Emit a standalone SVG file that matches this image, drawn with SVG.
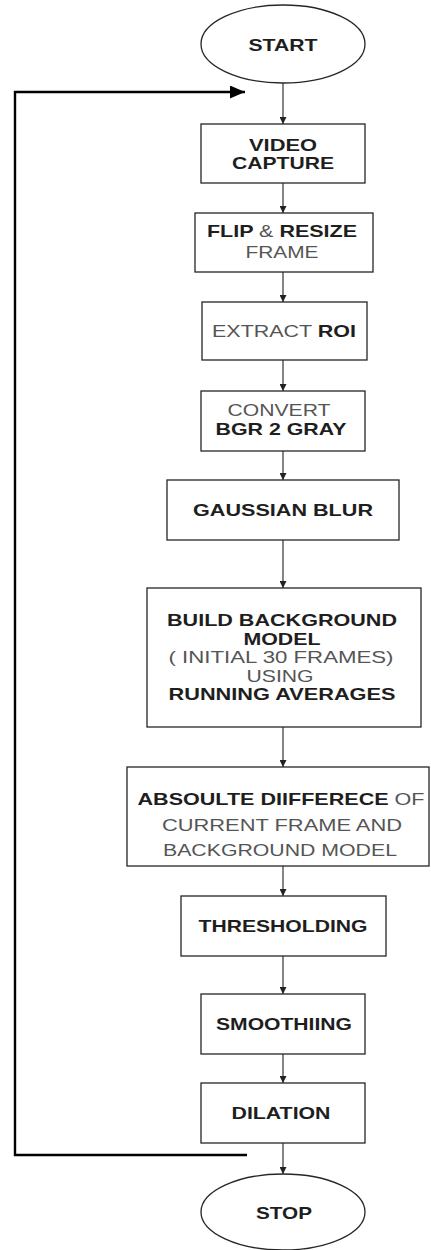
<svg xmlns="http://www.w3.org/2000/svg" width="431" height="1250" viewBox="0 0 431 1250">
<style>
.n{fill:#fff;stroke:#262626;stroke-width:1.3}
.t{font-family:"Liberation Sans",Arial,sans-serif;font-size:16.5px;text-anchor:middle}
.b{font-weight:bold;fill:#1e1e1e}
.r{font-weight:normal;fill:#555}
.c{stroke:#333;stroke-width:1.2;fill:none}
.fb{stroke:#000;stroke-width:2.4;fill:none}
</style>
<defs>
<marker id="ah" viewBox="0 0 10 10" refX="10" refY="5" markerWidth="7" markerHeight="7" markerUnits="userSpaceOnUse" orient="auto">
<path d="M0,0 L10,5 L0,10 z" fill="#222"/>
</marker>
<marker id="big" viewBox="0 0 10 10" refX="10" refY="5" markerWidth="15" markerHeight="13" markerUnits="userSpaceOnUse" orient="auto" preserveAspectRatio="none">
<path d="M0,0 L10,5 L0,10 z" fill="#000"/>
</marker>
</defs>
<rect width="431" height="1250" fill="#fff"/>
<g id="connectors">
<line class="c" x1="283" y1="83" x2="283" y2="124" marker-end="url(#ah)"/>
<line class="c" x1="283" y1="183" x2="283" y2="213" marker-end="url(#ah)"/>
<line class="c" x1="283" y1="272" x2="283" y2="302" marker-end="url(#ah)"/>
<line class="c" x1="283" y1="360" x2="283" y2="391" marker-end="url(#ah)"/>
<line class="c" x1="283" y1="451" x2="283" y2="480" marker-end="url(#ah)"/>
<line class="c" x1="283" y1="540" x2="283" y2="588" marker-end="url(#ah)"/>
<line class="c" x1="283" y1="727" x2="283" y2="767" marker-end="url(#ah)"/>
<line class="c" x1="283" y1="866" x2="283" y2="896" marker-end="url(#ah)"/>
<line class="c" x1="283" y1="956" x2="283" y2="994" marker-end="url(#ah)"/>
<line class="c" x1="283" y1="1054" x2="283" y2="1083" marker-end="url(#ah)"/>
<line class="c" x1="283" y1="1143" x2="283" y2="1174" marker-end="url(#ah)"/>
<polyline class="fb" points="247,1155 15,1155 15,92 245,92" marker-end="url(#big)"/>
</g>
<g id="start">
<ellipse class="n" cx="283" cy="44" rx="82" ry="39"/>
<text class="t b" x="283" y="51" textLength="69" lengthAdjust="spacingAndGlyphs">START</text>
</g>
<g id="video-capture">
<rect class="n" x="201" y="124" width="164" height="59"/>
<text class="t b" x="283" y="151" textLength="68" lengthAdjust="spacingAndGlyphs">VIDEO</text>
<text class="t b" x="283" y="169" textLength="102" lengthAdjust="spacingAndGlyphs">CAPTURE</text>
</g>
<g id="flip-resize">
<rect class="n" x="195" y="213" width="178" height="59"/>
<text class="t" x="282" y="237" textLength="150" lengthAdjust="spacingAndGlyphs"><tspan class="b">FLIP </tspan><tspan class="r">&amp;</tspan><tspan class="b"> RESIZE</tspan></text>
<text class="t r" x="282" y="258" textLength="73" lengthAdjust="spacingAndGlyphs">FRAME</text>
</g>
<g id="extract-roi">
<rect class="n" x="202" y="302" width="165" height="58"/>
<text class="t" x="284" y="337" textLength="144" lengthAdjust="spacingAndGlyphs"><tspan class="r">EXTRACT </tspan><tspan class="b">ROI</tspan></text>
</g>
<g id="convert">
<rect class="n" x="201" y="391" width="164" height="60"/>
<text class="t r" x="279" y="416" textLength="103" lengthAdjust="spacingAndGlyphs">CONVERT</text>
<text class="t b" x="281" y="435" textLength="131" lengthAdjust="spacingAndGlyphs">BGR 2 GRAY</text>
</g>
<g id="gaussian-blur">
<rect class="n" x="167" y="480" width="232" height="60"/>
<text class="t b" x="283" y="516" textLength="180" lengthAdjust="spacingAndGlyphs">GAUSSIAN BLUR</text>
</g>
<g id="build-background">
<rect class="n" x="147" y="588" width="274" height="139"/>
<text class="t b" x="282" y="626" textLength="230" lengthAdjust="spacingAndGlyphs">BUILD BACKGROUND</text>
<text class="t b" x="282" y="645" textLength="77" lengthAdjust="spacingAndGlyphs">MODEL</text>
<text class="t r" x="281" y="663" textLength="225" lengthAdjust="spacingAndGlyphs">( INITIAL 30 FRAMES)</text>
<text class="t r" x="280" y="682" textLength="67" lengthAdjust="spacingAndGlyphs">USING</text>
<text class="t b" x="282" y="700" textLength="227" lengthAdjust="spacingAndGlyphs">RUNNING AVERAGES</text>
</g>
<g id="absolute-difference">
<rect class="n" x="127" y="767" width="302" height="99"/>
<text class="t" x="281" y="805" textLength="287" lengthAdjust="spacingAndGlyphs"><tspan class="b">ABSOULTE DIIFFERECE</tspan><tspan class="r"> OF</tspan></text>
<text class="t r" x="282" y="831" textLength="240" lengthAdjust="spacingAndGlyphs">CURRENT FRAME AND</text>
<text class="t r" x="280" y="856" textLength="234" lengthAdjust="spacingAndGlyphs">BACKGROUND MODEL</text>
</g>
<g id="thresholding">
<rect class="n" x="181" y="896" width="205" height="60"/>
<text class="t b" x="283" y="932" textLength="169" lengthAdjust="spacingAndGlyphs">THRESHOLDING</text>
</g>
<g id="smoothing">
<rect class="n" x="201" y="994" width="164" height="60"/>
<text class="t b" x="284" y="1030" textLength="136" lengthAdjust="spacingAndGlyphs">SMOOTHIING</text>
</g>
<g id="dilation">
<rect class="n" x="201" y="1083" width="164" height="60"/>
<text class="t b" x="281" y="1119" textLength="99" lengthAdjust="spacingAndGlyphs">DILATION</text>
</g>
<g id="stop">
<ellipse class="n" cx="283" cy="1212" rx="82" ry="38"/>
<text class="t b" x="284" y="1219" textLength="56" lengthAdjust="spacingAndGlyphs">STOP</text>
</g>
</svg>
